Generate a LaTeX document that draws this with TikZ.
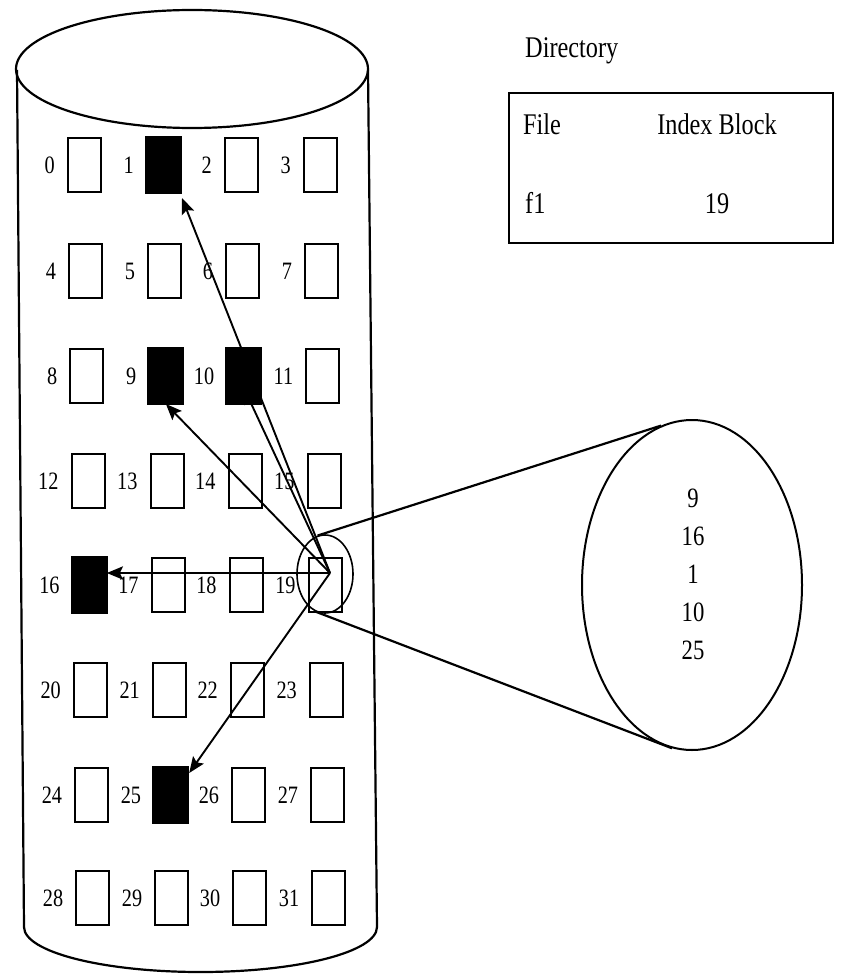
\documentclass[tikz,border=0pt]{standalone}
\usepackage{fontspec}
\setmainfont{Liberation Serif}[FakeStretch=0.81]
\usetikzlibrary{shapes.geometric,arrows.meta,calc}
\begin{document}
\begin{tikzpicture}[x=1pt,y=-1pt,
  blk/.style={draw,line width=2pt,minimum width=33pt,minimum height=54pt,inner sep=0pt,anchor=north west},
  lbl/.style={font=\fontsize{25}{30}\selectfont,anchor=east,inner sep=0pt},
  ptr/.style={line width=1.9pt,-{Stealth[length=16pt,width=13pt,inset=3pt]}},
  tbl/.style={font=\fontsize{30}{36}\selectfont,inner sep=0pt},
  outline/.style={line width=2.2pt}]
\useasboundingbox (0,0) rectangle (854,979);

% disk cylinder
\draw[outline] (192,69) ellipse [x radius=176pt,y radius=59pt];
\draw[outline] (17,70) -- (24,927);
\draw[outline] (368,70) -- (377,927);
\draw[outline] (24,927) .. controls (24,952) and (103,972) .. (200.5,972)
                        .. controls (298,972) and (377,952) .. (377,927);

% 32 disk blocks with their numbers
\foreach \r/\y in {0/137,1/243,2/348,3/453,4/557,5/662,6/767,7/870}{
  \foreach \c/\x in {0/67,1/146,2/224,3/303}{
    \pgfmathtruncatemacro\n{4*\r+\c}
    \node[blk] (b\n) at ({\x+1.2*\r},\y) {};
    \node[lbl] (l\n) at ($(b\n.west)+(-12,0)$) {\n};
  }
}
% blocks holding data of f1
\foreach \n in {1,9,10,16,25}{
  \path[fill=black,draw,line width=2pt] (b\n.north west) rectangle (b\n.south east);
}

% index block 19 and its pointers
\coordinate (src) at (330,573);
\draw[ptr,line width=2.8pt] (src) -- (src -| b16.east);
\draw[ptr] (src) -- (b9.south);
\draw[ptr] (src) -- ($(b10.south)+(0,-16)$);
\draw[ptr] (src) -- ($(b1.south east)+(1,5)$);
\draw[ptr] (src) -- ($(b25.north east)+(1,6)$);

% magnified index block
\node[draw,ellipse,minimum width=56pt,minimum height=78pt,inner sep=0pt,line width=1.6pt] (lens) at (325,574) {};
\node[draw,ellipse,minimum width=220pt,minimum height=330pt,inner sep=0pt,line width=2pt] (idx) at (692,585) {};
\node[align=center,font=\fontsize{28}{38}\selectfont,inner sep=0pt] (list) at (693,574) {9\\16\\1\\10\\25};
\draw[outline] (lens.101) -- (idx.101);
\draw[outline] (lens.257) -- (idx.263);

% directory
\node[tbl,anchor=base west] (dirtitle) at (525,58) {Directory};
\node[draw,outline,minimum width=324pt,minimum height=150pt,anchor=north west] (dir) at (508,92) {};
\node[tbl,anchor=base west] (hfile) at (523,135) {File};
\node[tbl,anchor=base] (hindex) at (717,135) {Index Block};
\node[tbl,anchor=base west] (ffile) at (525,213) {f1};
\node[tbl,anchor=base] (findex) at (717,213) {19};
\end{tikzpicture}
\end{document}
